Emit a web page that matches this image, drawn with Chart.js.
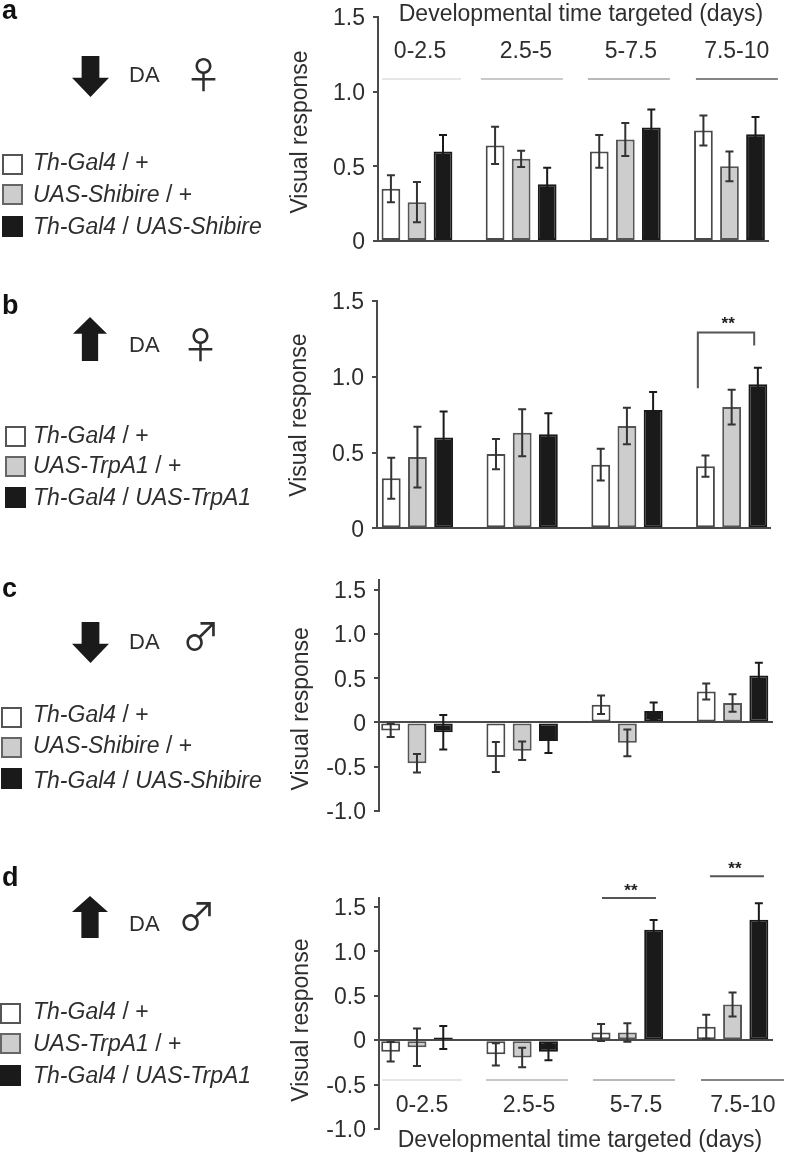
<!DOCTYPE html>
<html>
<head>
<meta charset="utf-8">
<title>Visual response</title>
<script src="https://cdn.jsdelivr.net/npm/chart.js@4"></script>
<style>
html,body{margin:0;padding:0;background:#fff;}
#page{position:relative;width:785px;height:1152px;overflow:hidden;font-family:"Liberation Sans",sans-serif;color:#2e2e2e;filter:blur(0.4px);}
#page canvas{position:absolute;left:0;}
.txt{position:absolute;white-space:pre;line-height:1;font-size:22px;}
.box{position:absolute;box-sizing:border-box;width:21px;height:21px;border:2px solid #555;}
.arrow{position:absolute;background:#1a1a1a;}
</style>
</head>
<body>
<div id="page"></div>
<script>
/* values */
const groups=["0-2.5","2.5-5","5-7.5","7.5-10"];
const yTicks=[-1,-0.5,0,0.5,1,1.5];
const xTitle="Developmental time targeted (days)";
const yTitle="Visual response";

/* a */
const aWhite=[0.35,0.64,0.60,0.74];
const aGray=[0.26,0.55,0.68,0.50];
const aBlack=[0.60,0.38,0.76,0.715];
const aWhiteErr=[0.09,0.125,0.11,0.10];
const aGrayErr=[0.135,0.055,0.11,0.10];
const aBlackErr=[0.11,0.11,0.12,0.115];

/* b */
const bWhite=[0.33,0.49,0.42,0.41];
const bGray=[0.47,0.63,0.675,0.80];
const bBlack=[0.60,0.62,0.78,0.95];
const bWhiteErr=[0.135,0.10,0.105,0.07];
const bGrayErr=[0.20,0.155,0.12,0.115];
const bBlackErr=[0.17,0.14,0.12,0.11];

/* c */
const cWhite=[-0.09,-0.39,0.20,0.35];
const cGray=[-0.46,-0.32,-0.23,0.22];
const cBlack=[-0.11,-0.21,0.13,0.53];
const cWhiteErr=[0.075,0.17,0.105,0.09];
const cGrayErr=[0.105,0.105,0.15,0.10];
const cBlackErr=[0.195,0.135,0.095,0.145];

/* d */
const dWhite=[-0.13,-0.16,0.086,0.15];
const dGray=[-0.08,-0.195,0.086,0.40];
const dBlack=[0.03,-0.13,1.243,1.355];
const dWhiteErr=[0.11,0.125,0.095,0.135];
const dGrayErr=[0.21,0.11,0.105,0.135];
const dBlackErr=[0.13,0.095,0.11,0.185];

const page=document.getElementById("page");
const stripColors=["#e6e6e6","#c9c9c9","#b9b9b9","#858585"];
const errColors=["#333","#333","#1a1a1a"];
const FONT='23px "Liberation Sans"';

function addText(x,baseline,html,size,extra){
  let d=document.createElement("div");
  d.className="txt";
  d.innerHTML=html;
  d.style.cssText=`left:${x}px;top:${baseline-0.846*size}px;font-size:${size}px;`+(extra||"");
  page.appendChild(d);
}

function addBox(x,y,fill,border){
  let d=document.createElement("div");
  d.className="box";
  d.style.cssText=`left:${x}px;top:${y}px;background:${fill};border-color:${border};`;
  page.appendChild(d);
}

function addArrow(x,y,w,h,up){
  let d=document.createElement("div");
  d.className="arrow";
  let shape=up
    ?"polygon(50% 0,100% 38%,74% 38%,74% 100%,26% 100%,26% 38%,0 38%)"
    :"polygon(26% 0,74% 0,74% 53%,100% 53%,50% 100%,0 53%,26% 53%)";
  d.style.cssText=`left:${x}px;top:${y}px;width:${w}px;height:${h}px;clip-path:${shape};`;
  page.appendChild(d);
}

/* left side of each panel */
function addSide(p){
  addText(2,p.letterBase,p.letter,27,"font-weight:bold;color:#111;");
  addArrow(p.arrow[0],p.arrow[1],p.arrow[2],p.arrow[3],p.up);
  addText(129,p.daBase,"DA",22);
  addText(p.sex[0],p.sex[1],p.sex[2],p.sex[3],'font-family:"Noto Sans CJK JP";');
  let fills=["#fff","#cdcdcd","#1a1a1a"];
  let lines=["#555","#666","#1a1a1a"];
  let names=[
    "<i>Th-Gal4</i> / +",
    `<i>${p.uas}</i> / +`,
    `<i>Th-Gal4</i> / <i>${p.uas}</i>`
  ];
  names.forEach((n,i)=>{
    addBox(p.boxX,p.boxY[i],fills[i],lines[i]);
    addText(33,p.legBase[i],n,23);
  });
}

/* error bars, group labels, strips and significance marks */
function overlayPlugin(p,errs){
  return {
    id:"overlay",
    afterDatasetsDraw(chart){
      let c=chart.ctx,ys=chart.scales.y;
      c.save();
      c.lineWidth=2;
      errs.forEach((err,ds)=>{
        c.strokeStyle=errColors[ds];
        chart.getDatasetMeta(ds).data.forEach((bar,i)=>{
          let v=chart.data.datasets[ds].data[i].y;
          let hi=ys.getPixelForValue(v+err[i]),lo=ys.getPixelForValue(v-err[i]);
          c.beginPath();
          c.moveTo(bar.x,hi);c.lineTo(bar.x,lo);
          c.moveTo(bar.x-4,hi);c.lineTo(bar.x+4,hi);
          c.moveTo(bar.x-4,lo);c.lineTo(bar.x+4,lo);
          c.stroke();
        });
      });
      c.restore();
    },
    afterDraw(chart){
      let c=chart.ctx,xs=chart.scales.x,ys=chart.scales.y;
      c.save();
      c.fillStyle="#2e2e2e";
      c.font=FONT;
      c.textAlign="center";
      c.textBaseline="middle";
      if(p.groupAt){
        groups.forEach((g,i)=>{
          c.fillText(g,xs.getPixelForValue(p.groupAt[i]),ys.getPixelForValue(p.groupY));
        });
        c.fillText(xTitle,xs.getPixelForValue(p.titleAt[0]),ys.getPixelForValue(p.titleAt[1]));
        p.strips.forEach((s,i)=>{
          c.strokeStyle=stripColors[i];
          c.lineWidth=2;
          c.beginPath();
          c.moveTo(xs.getPixelForValue(s[0]),ys.getPixelForValue(p.stripY));
          c.lineTo(xs.getPixelForValue(s[1]),ys.getPixelForValue(p.stripY));
          c.stroke();
        });
      }
      (p.sig||[]).forEach(s=>{
        c.strokeStyle="#555";
        c.lineWidth=2;
        c.beginPath();
        c.moveTo(xs.getPixelForValue(s.from),ys.getPixelForValue(s.dropL));
        c.lineTo(xs.getPixelForValue(s.from),ys.getPixelForValue(s.y));
        c.lineTo(xs.getPixelForValue(s.to),ys.getPixelForValue(s.y));
        c.lineTo(xs.getPixelForValue(s.to),ys.getPixelForValue(s.dropR));
        c.stroke();
        c.fillStyle="#222";
        c.font='bold 17px "Liberation Sans"';
        c.fillText("**",xs.getPixelForValue(s.star[0]),ys.getPixelForValue(s.star[1]));
      });
      /* y title sits off the middle of the axis in c and d, so it goes here */
      c.fillStyle="#2e2e2e";
      c.font=FONT;
      c.translate(xs.left-77,ys.getPixelForValue(p.yTitleAt));
      c.rotate(-Math.PI/2);
      c.fillText(yTitle,0,0);
      c.restore();
    }
  };
}

function makePanel(p,white,gray,black,errs){
  let cv=document.createElement("canvas");
  cv.width=785;
  cv.height=p.bandH;
  cv.style.top=p.bandTop+"px";
  page.appendChild(cv);
  addSide(p);

  let points=v=>v.map((y,i)=>({x:i+1,y}));
  let barOpts={borderWidth:2,borderSkipped:false,categoryPercentage:0.75,barPercentage:0.72};

  new Chart(cv,{
    type:"bar",
    data:{datasets:[
      {label:"Th-Gal4 / +",data:points(white),backgroundColor:"#fff",borderColor:"#4a4a4a",...barOpts},
      {label:p.uas+" / +",data:points(gray),backgroundColor:"#cdcdcd",borderColor:"#555",...barOpts},
      {label:"Th-Gal4 / "+p.uas,data:points(black),backgroundColor:"#1a1a1a",borderColor:"#1a1a1a",...barOpts}
    ]},
    plugins:[overlayPlugin(p,errs)],
    options:{
      responsive:false,
      animation:false,
      layout:{padding:{left:p.left-60,right:785-p.right,top:p.top-p.bandTop,bottom:p.bandTop+p.bandH-p.bottom}},
      plugins:{legend:{display:false},tooltip:{enabled:false}},
      scales:{
        x:{
          type:"linear",
          offset:false,
          position:{y:0},
          min:p.xRange[0],
          max:p.xRange[1],
          afterBuildTicks(s){s.ticks=groups.map((g,i)=>({value:i+1}));},
          grid:{display:false,offset:false},
          ticks:{display:false},
          border:{display:true,color:"#4a4a4a",width:2}
        },
        y:{
          position:"left",
          min:p.yRange[0],
          max:p.yRange[1],
          afterFit(s){s.width=60;},
          afterBuildTicks(s){s.ticks=yTicks.filter(v=>v>=s.min&&v<=s.max).map(value=>({value}));},
          grid:{display:true,drawOnChartArea:false,drawTicks:true,tickLength:5,color:"#4a4a4a",lineWidth:2},
          border:{display:true,color:"#4a4a4a",width:2},
          ticks:{
            color:"#2e2e2e",
            padding:8,
            /* empty first line + tight lineHeight nudges the digits 2px down onto the tick */
            font:{family:"Liberation Sans",size:23,lineHeight:0.17},
            callback:v=>["",v===0?"0":v.toFixed(1)]
          }
        }
      }
    }
  });
}

/* band tops are pulled up because the chart keeps about 21px above the plot for the top tick label */
makePanel({
  letter:"a",letterBase:20,up:false,arrow:[72,56,37,41],daBase:83,sex:[185,86,"♀",37],
  uas:"UAS-Shibire",boxX:2,boxY:[154,184,216],legBase:[170,202,234],
  bandTop:-10,bandH:295,left:378,right:768,top:17,bottom:241,xRange:[0.626,4.37],yRange:[0,1.5],
  yTitleAt:0.73,
  groupAt:[1.03,2.046,3.054,4.07],groupY:1.266,titleAt:[2.574,1.517],stripY:1.085,
  strips:[[0.664,1.422],[1.614,2.401],[2.641,3.428],[3.678,4.465]]
},aWhite,aGray,aBlack,[aWhiteErr,aGrayErr,aBlackErr]);

makePanel({
  letter:"b",letterBase:315,up:true,arrow:[73,317,34,44],daBase:353,sex:[182,356,"♀",37],
  uas:"UAS-TrpA1",boxX:5,boxY:[426,456,487],legBase:[443,473,505],
  bandTop:270,bandH:300,left:377,right:770,top:301,bottom:528.3,xRange:[0.614,4.366],yRange:[0,1.5],
  yTitleAt:0.747,
  sig:[{from:3.677,to:4.215,y:1.292,dropL:0.925,dropR:1.207,star:[3.967,1.345]}]
},bWhite,bGray,bBlack,[bWhiteErr,bGrayErr,bBlackErr]);

makePanel({
  letter:"c",letterBase:598,up:false,arrow:[72,622,37,41],daBase:650,sex:[182,647,"♂",38],
  uas:"UAS-Shibire",boxX:1,boxY:[707,737,768],legBase:[722,753,788],
  bandTop:550,bandH:300,left:379,right:772,top:580,bottom:811,xRange:[0.639,4.375],yRange:[-1,1.61],
  yTitleAt:0.155
},cWhite,cGray,cBlack,[cWhiteErr,cGrayErr,cBlackErr]);

makePanel({
  letter:"d",letterBase:887,up:true,arrow:[72,896,36,42],daBase:932,sex:[178,927,"♂",38],
  uas:"UAS-TrpA1",boxX:0,boxY:[1003,1033,1065],legBase:[1019,1051,1083],
  bandTop:850,bandH:302,left:379,right:772,top:898,bottom:1129,xRange:[0.639,4.375],yRange:[-1,1.6],
  yTitleAt:0.225,
  groupAt:[1.048,2.065,3.082,4.099],groupY:-0.74,titleAt:[2.549,-1.135],stripY:-0.449,
  strips:[[0.667,1.428],[1.656,2.435],[2.673,3.452],[3.70,4.489]],
  sig:[
    {from:2.759,to:3.272,y:1.6,dropL:1.6,dropR:1.6,star:[3.034,1.68]},
    {from:3.785,to:4.298,y:1.846,dropL:1.846,dropR:1.846,star:[4.023,1.92]}
  ]
},dWhite,dGray,dBlack,[dWhiteErr,dGrayErr,dBlackErr]);
</script>
</body>
</html>
